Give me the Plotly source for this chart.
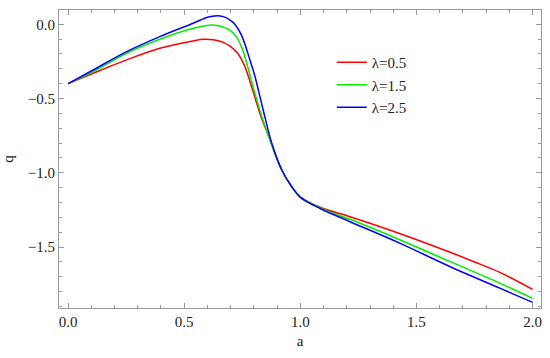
import plotly.graph_objects as go

# Data
a_red = [0, 0.108, 0.252, 0.395, 0.539, 0.582, 0.625, 0.668, 0.70, 0.73, 0.76, 0.797, 0.826, 0.87, 0.92, 0.963, 1.0, 1.085, 1.214, 1.43, 1.645, 1.75, 1.861, 2.0]
q_red = [-0.4, -0.33, -0.24, -0.162, -0.112, -0.101, -0.104, -0.122, -0.15, -0.195, -0.28, -0.455, -0.6, -0.78, -0.981, -1.094, -1.161, -1.232, -1.296, -1.41, -1.535, -1.6, -1.672, -1.785]

a_green = [0, 0.108, 0.252, 0.395, 0.539, 0.625, 0.683, 0.70, 0.725, 0.75, 0.775, 0.80, 0.83, 0.86, 0.89, 0.92, 0.963, 1.0, 1.085, 1.214, 1.43, 1.645, 1.861, 2.0]
q_green = [-0.4, -0.319, -0.195, -0.101, -0.027, -0.005, -0.028, -0.045, -0.085, -0.165, -0.295, -0.44, -0.60, -0.74, -0.87, -0.981, -1.094, -1.163, -1.236, -1.313, -1.452, -1.598, -1.744, -1.845]

a_blue = [0, 0.108, 0.252, 0.395, 0.539, 0.6, 0.63, 0.655, 0.68, 0.70, 0.718, 0.747, 0.783, 0.805, 0.84, 0.877, 0.92, 0.963, 1.0, 1.085, 1.214, 1.43, 1.645, 1.861, 2.0]
q_blue = [-0.4, -0.308, -0.184, -0.083, 0.007, 0.047, 0.056, 0.056, 0.045, 0.025, 0.0, -0.075, -0.24, -0.353, -0.577, -0.801, -0.981, -1.094, -1.165, -1.24, -1.329, -1.475, -1.632, -1.778, -1.872]

labels = ["λ=0.5", "λ=1.5", "λ=2.5"]
colors = ["#ff0000", "#00ee00", "#0000ff"]

x_ticks = [0.0, 0.5, 1.0, 1.5, 2.0]
y_ticks = [0.0, -0.5, -1.0, -1.5]

FONT = "Liberation Serif"

fig = go.Figure()
for xs, ys, name, col in zip([a_red, a_green, a_blue], [q_red, q_green, q_blue], labels, colors):
    fig.add_trace(go.Scatter(x=xs, y=ys, mode="lines", name=name,
                             line=dict(color=col, width=1.5, shape="spline", smoothing=1.0)))

axis_common = dict(
    showgrid=False, zeroline=False, showline=True, linecolor="#9a9a9a", linewidth=1,
    mirror="allticks", ticks="inside", ticklen=5, tickcolor="#9a9a9a", tickwidth=1,
    tickfont=dict(family=FONT, size=15, color="#222"), automargin=False,
)

fig.update_layout(
    width=550, height=358,
    margin=dict(l=59, r=9, t=10, b=50),
    paper_bgcolor="white", plot_bgcolor="white",
    font=dict(family=FONT, size=15, color="#222"),
    xaxis=dict(range=[-0.039, 2.036], tickvals=x_ticks, ticktext=[f"{v:.1f}" for v in x_ticks],
               minor=dict(dtick=0.1, tick0=0, ticks="inside", ticklen=3, tickcolor="#9a9a9a"),
               title=dict(text="a", font=dict(family=FONT, size=15), standoff=6),
               **axis_common),
    yaxis=dict(range=[-1.91, 0.096], tickvals=y_ticks,
               ticktext=["0.0", "\u22120.5", "\u22121.0", "\u22121.5"],
               minor=dict(dtick=0.1, tick0=0, ticks="inside", ticklen=3, tickcolor="#9a9a9a"),
               title=dict(text="q", font=dict(family=FONT, size=15), standoff=10),
               **axis_common),
    legend=dict(x=0.566, y=0.879, xanchor="left", yanchor="top",
                bgcolor="rgba(0,0,0,0)", font=dict(family=FONT, size=15),
                tracegroupgap=0, itemwidth=30),
)

fig.write_html("out.html", config={"displayModeBar": False},
               post_script="document.body.style.margin='0';")
